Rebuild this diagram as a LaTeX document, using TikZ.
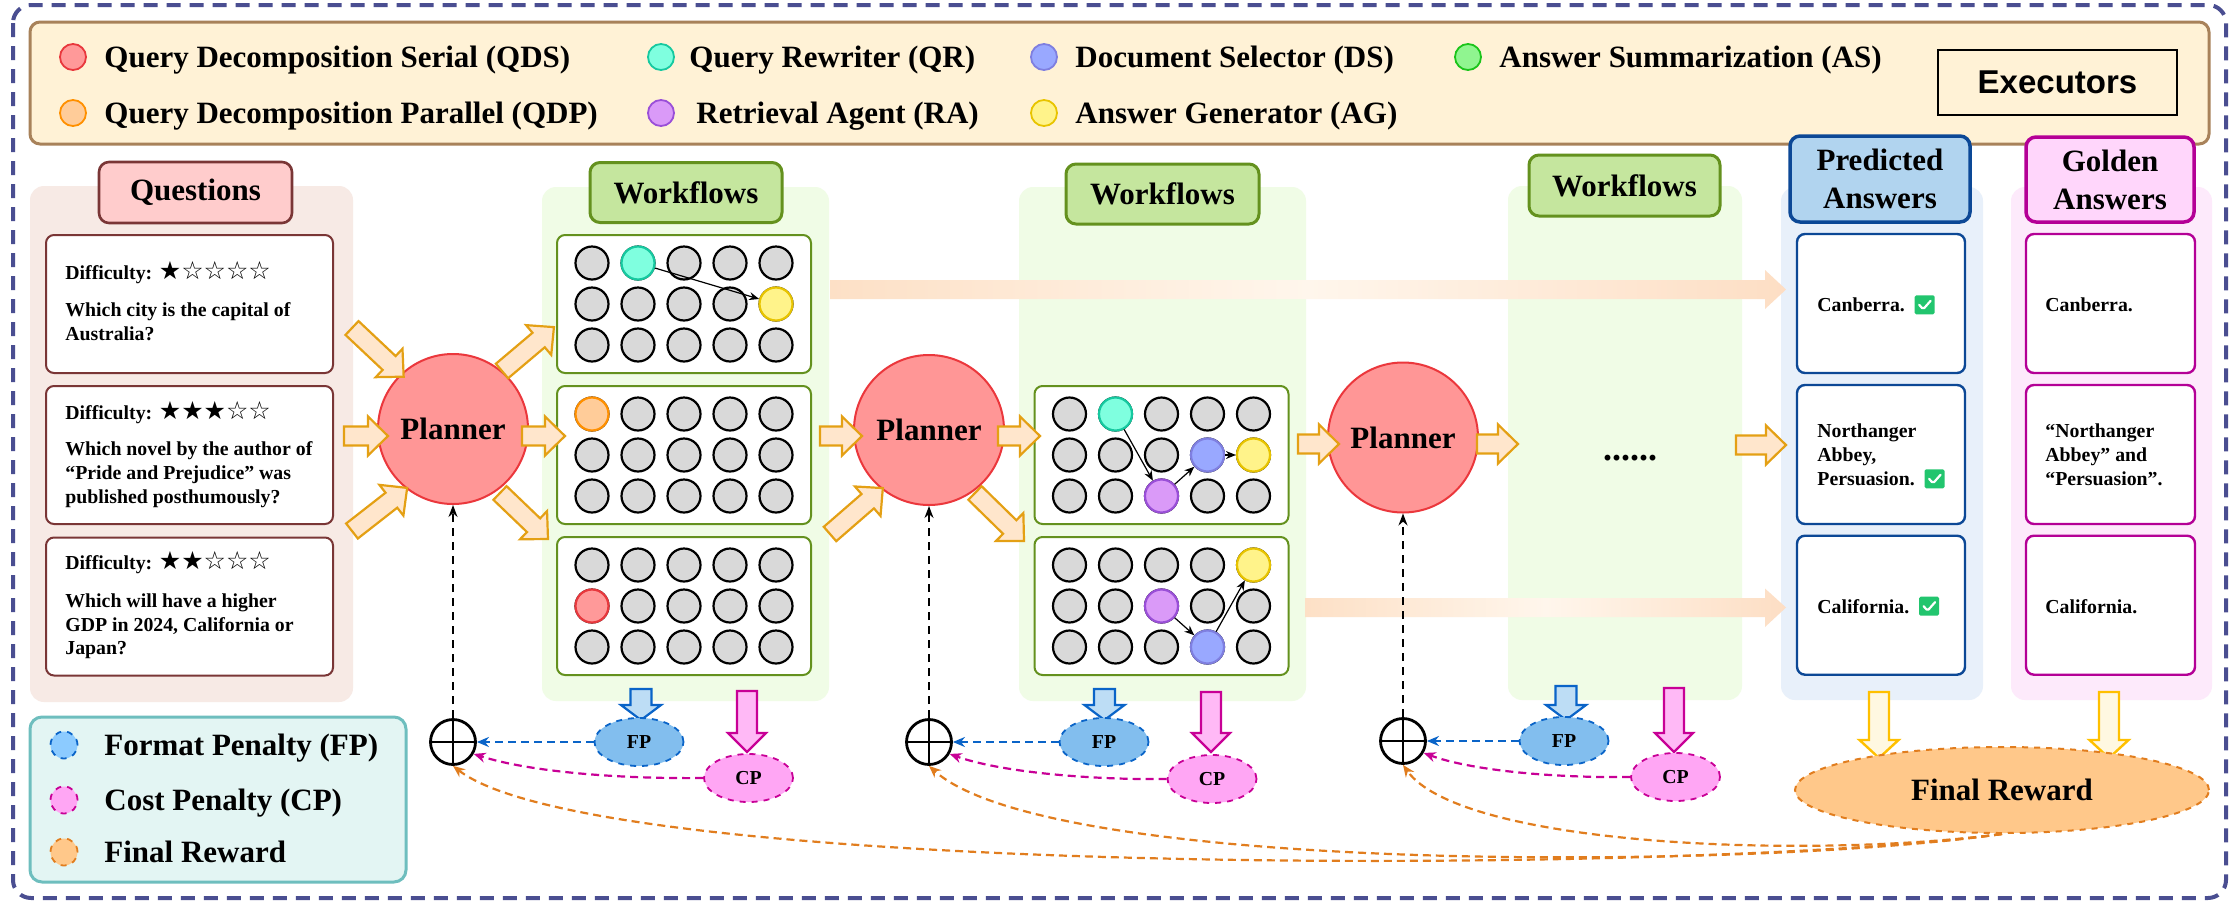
\documentclass[tikz,border=0pt]{standalone}
\usepackage{fontspec}
\setmainfont{Liberation Serif}
\setsansfont{Liberation Sans}
\newfontfamily\symf{DejaVu Sans}
\usetikzlibrary{arrows.meta,shapes.geometric}
\definecolor{outerC}{RGB}{74,78,145}
\definecolor{exF}{RGB}{255,242,214}
\definecolor{exD}{RGB}{168,130,90}
\definecolor{qbg}{RGB}{247,234,229}
\definecolor{qhF}{RGB}{255,204,204}
\definecolor{qD}{RGB}{122,54,54}
\definecolor{wbg}{RGB}{240,252,230}
\definecolor{whF}{RGB}{197,230,158}
\definecolor{wD}{RGB}{100,145,30}
\definecolor{gridF}{RGB}{217,217,217}
\definecolor{plF}{RGB}{255,150,150}
\definecolor{plD}{RGB}{235,55,60}
\definecolor{baF}{RGB}{255,230,204}
\definecolor{baD}{RGB}{228,160,20}
\definecolor{barL}{RGB}{253,224,198}
\definecolor{barR}{RGB}{253,222,196}
\definecolor{barM}{RGB}{255,246,236}
\definecolor{pbg}{RGB}{232,240,250}
\definecolor{phF}{RGB}{177,212,239}
\definecolor{pD}{RGB}{12,72,150}
\definecolor{gbg}{RGB}{253,234,251}
\definecolor{ghF}{RGB}{255,214,251}
\definecolor{gD}{RGB}{180,0,150}
\definecolor{lgF}{RGB}{227,245,243}
\definecolor{lgD}{RGB}{110,190,190}
\definecolor{fpF}{RGB}{130,190,238}
\definecolor{fpLF}{RGB}{140,203,255}
\definecolor{fpD}{RGB}{10,100,200}
\definecolor{fpaF}{RGB}{189,221,245}
\definecolor{cpF}{RGB}{255,166,244}
\definecolor{cpD}{RGB}{200,0,150}
\definecolor{cpaF}{RGB}{255,185,246}
\definecolor{frF}{RGB}{255,200,138}
\definecolor{frD}{RGB}{225,125,30}
\definecolor{yaF}{RGB}{255,248,225}
\definecolor{yaD}{RGB}{255,192,0}
\definecolor{ckG}{RGB}{34,197,110}
\definecolor{qdsF}{RGB}{255,153,153}\definecolor{qdsD}{RGB}{232,56,61}
\definecolor{qdpF}{RGB}{255,204,153}\definecolor{qdpD}{RGB}{255,144,0}
\definecolor{qrF}{RGB}{127,255,223}\definecolor{qrD}{RGB}{22,201,160}
\definecolor{raF}{RGB}{218,154,248}\definecolor{raD}{RGB}{154,79,216}
\definecolor{dsF}{RGB}{153,168,255}\definecolor{dsD}{RGB}{127,127,224}
\definecolor{agF}{RGB}{255,243,138}\definecolor{agD}{RGB}{232,196,0}
\definecolor{asF}{RGB}{144,245,144}\definecolor{asD}{RGB}{27,196,27}
\newcommand{\blockarr}[7]{%
\begin{scope}[shift={#2},rotate=#3]
\draw[#1] (0,-#5) -- ({#4-#7},-#5) -- ({#4-#7},-#6) -- (#4,0) -- ({#4-#7},#6) -- ({#4-#7},#5) -- (0,#5) -- cycle;
\end{scope}}
\newcommand{\stars}[1]{{\symf\mdseries\fontsize{12.5}{12}\selectfont #1}}
\tikzset{
 lbl/.style={inner sep=0pt,font=\bfseries\fontsize{15.5}{19}\selectfont},
 sml/.style={inner sep=0pt,font=\bfseries\fontsize{9.9}{12}\selectfont},
 excirc/.style={circle,minimum size=13pt,inner sep=0pt,line width=0.9pt},
 qdsS/.style={fill=qdsF,draw=qdsD},
 qdpS/.style={fill=qdpF,draw=qdpD},
 qrS/.style={fill=qrF,draw=qrD},
 raS/.style={fill=raF,draw=raD},
 dsS/.style={fill=dsF,draw=dsD},
 agS/.style={fill=agF,draw=agD},
 asS/.style={fill=asF,draw=asD},
 hdr/.style={rounded corners=5pt,inner sep=0pt,align=center,font=\bfseries\fontsize{15.5}{19}\selectfont},
 qbox/.style={draw=qD,fill=white,line width=1pt,rounded corners=4pt,minimum width=143.5pt,minimum height=69pt,inner sep=0pt},
 wbox/.style={draw=wD,fill=white,line width=1pt,rounded corners=4pt,minimum width=127pt,minimum height=69pt,inner sep=0pt},
 gc/.style={circle,minimum size=16.5pt,inner sep=0pt,fill=gridF,draw=black,line width=1.1pt},
 planner/.style={circle,minimum size=75pt,inner sep=0pt,fill=plF,draw=plD,line width=1pt,font=\bfseries\fontsize{15.5}{19}\selectfont},
 barrow/.style={fill=baF,draw=baD,line width=1.1pt},
 fpa/.style={fill=fpaF,draw=fpD,line width=1.1pt},
 cpa/.style={fill=cpaF,draw=cpD,line width=1.1pt},
 yaa/.style={fill=yaF,draw=yaD,line width=1.2pt},
 abox/.style={fill=white,line width=1.2pt,rounded corners=4pt,minimum width=84pt,minimum height=69.5pt,inner sep=0pt},
 chk/.style={rectangle,fill=ckG,minimum width=10pt,minimum height=9.5pt,inner sep=0pt,rounded corners=0.8pt,
   path picture={\draw[white,line width=1.1pt,line cap=round,line join=round] ([shift={(-5.5,0)}]path picture bounding box.center) -- ++(4,4.5) -- ++(7.5,-8.5);}},
 oplus/.style={circle,draw=black,line width=1.4pt,minimum size=22.5pt,inner sep=0pt,
   path picture={\draw[line width=1.4pt] (path picture bounding box.north) -- (path picture bounding box.south) (path picture bounding box.west) -- (path picture bounding box.east);}},
 pen/.style={ellipse,minimum width=44.5pt,minimum height=24pt,inner sep=0pt,dashed,line width=0.9pt,font=\bfseries\fontsize{9.9}{12}\selectfont},
 fpS/.style={pen,fill=fpF,draw=fpD},
 cpS/.style={pen,fill=cpF,draw=cpD},
 flow/.style={-{Stealth[length=5pt,width=4pt]},line width=0.6pt},
 vdash/.style={draw=black,line width=0.8pt,dash pattern=on 4pt off 3pt,-{Stealth[length=6pt,width=4.5pt]}},
 fparr/.style={draw=fpD,line width=1.2pt,dash pattern=on 4pt off 2.5pt,-{Stealth[length=6pt,width=5pt]}},
 cparr/.style={draw=cpD,line width=1.1pt,dash pattern=on 4pt off 2.5pt,-{Stealth[length=6pt,width=5pt]}},
 frarr/.style={draw=frD,line width=1.1pt,dash pattern=on 4pt off 2.5pt,-{Stealth[length=6pt,width=5pt]}},
 lgc/.style={circle,minimum size=13.5pt,inner sep=0pt,dashed,line width=0.9pt},
}
\begin{document}
\begin{tikzpicture}[x=0.5pt,y=-0.5pt]
\useasboundingbox (0,0) rectangle (2240,906);
\fill[white] (0,0) rectangle (2240,906);
% outer frame
\draw[outerC,line width=2pt,dash pattern=on 7pt off 4.5pt,rounded corners=9pt] (13,5) rectangle (2226,898);
% executors legend
\draw[fill=exF,draw=exD,line width=1.5pt,rounded corners=5pt] (30,22) rectangle (2209,144);
\node[excirc,qdsS] (lqds) at (73,57) {};
\node[lbl,anchor=base west] (tqds) at (104,67) {Query Decomposition Serial (QDS)};
\node[excirc,qdpS] (lqdp) at (73,113) {};
\node[lbl,anchor=base west] (tqdp) at (104,123) {Query Decomposition Parallel (QDP)};
\node[excirc,qrS] (lqr) at (661,57) {};
\node[lbl,anchor=base west] (tqr) at (689,67) {Query Rewriter (QR)};
\node[excirc,raS] (lra) at (661,113) {};
\node[lbl,anchor=base west] (tra) at (696,123) {Retrieval Agent (RA)};
\node[excirc,dsS] (lds) at (1044,57) {};
\node[lbl,anchor=base west] (tds) at (1075,67) {Document Selector (DS)};
\node[excirc,agS] (lag) at (1044,113) {};
\node[lbl,anchor=base west] (tag) at (1075,123) {Answer Generator (AG)};
\node[excirc,asS] (las) at (1468,57) {};
\node[lbl,anchor=base west] (tas) at (1499,67) {Answer Summarization (AS)};
\node[draw=black,line width=0.7pt,minimum width=119.5pt,minimum height=32.5pt,inner sep=0pt,font=\sffamily\bfseries\fontsize{16.5}{19}\selectfont] (exlbl) at (2057.5,82.5) {Executors};
% panel backgrounds
\fill[qbg,rounded corners=7pt] (30,186) rectangle (353,702);
\fill[wbg,rounded corners=7pt] (542,187) rectangle (829,701);
\fill[wbg,rounded corners=7pt] (1019,187) rectangle (1306,701);
\fill[wbg,rounded corners=7pt] (1508,186) rectangle (1742,700);
\fill[pbg,rounded corners=7pt] (1781,187) rectangle (1983,700);
\fill[gbg,rounded corners=7pt] (2011,187) rectangle (2212,700);
% gradient bars
\shade[left color=barL,right color=barR,middle color=barM] (830,280) -- (1765,280) -- (1765,270) -- (1786,289.5) -- (1765,309) -- (1765,299) -- (830,299) -- cycle;
\shade[left color=barL,right color=barR,middle color=barM] (1305,598) -- (1765,598) -- (1765,588.5) -- (1786,607.5) -- (1765,627) -- (1765,617) -- (1305,617) -- cycle;
% headers
\node[hdr,fill=qhF,draw=qD,line width=1.3pt,minimum width=96.5pt,minimum height=30.5pt] (qhead) at (195.5,192.5) {Questions};
\node[hdr,fill=whF,draw=wD,line width=1.5pt,minimum width=96pt,minimum height=30pt] (w1head) at (686,192.5) {Workflows};
\node[hdr,fill=whF,draw=wD,line width=1.5pt,minimum width=96.5pt,minimum height=30pt] (w2head) at (1162.5,194) {Workflows};
\node[hdr,fill=whF,draw=wD,line width=1.5pt,minimum width=95.5pt,minimum height=30.5pt] (w3head) at (1624.5,185.5) {Workflows};
\node[hdr,fill=phF,draw=pD,line width=1.75pt,minimum width=90pt,minimum height=43pt] (phead) at (1880,179) {Predicted\\Answers};
\node[hdr,fill=ghF,draw=gD,line width=1.75pt,minimum width=84pt,minimum height=42.5pt] (ghead) at (2110,179.5) {Golden\\Answers};
% question boxes
\node[qbox] (q1) at (189.5,304) {};
\node[qbox] (q2) at (189.5,455) {};
\node[qbox] (q3) at (189.5,606.5) {};
\node[sml,anchor=base west] (q1d) at (65,279) {Difficulty: \stars{★☆☆☆☆}};
\node[sml,anchor=base west] (q1a) at (65,316) {Which city is the capital of};
\node[sml,anchor=base west] (q1b) at (65,340) {Australia?};
\node[sml,anchor=base west] (q2d) at (65,419) {Difficulty: \stars{★★★☆☆}};
\node[sml,anchor=base west] (q2a) at (65,455) {Which novel by the author of};
\node[sml,anchor=base west] (q2b) at (65,479) {“Pride and Prejudice” was};
\node[sml,anchor=base west] (q2c) at (65,503) {published posthumously?};
\node[sml,anchor=base west] (q3d) at (65,569) {Difficulty: \stars{★★☆☆☆}};
\node[sml,anchor=base west] (q3a) at (65,607) {Which will have a higher};
\node[sml,anchor=base west] (q3b) at (65,631) {GDP in 2024, California or};
\node[sml,anchor=base west] (q3c) at (65,654) {Japan?};
% workflow boxes
\node[wbox] (wA) at (684,304) {};
\node[wbox] (wB) at (684,455) {};
\node[wbox] (wC) at (684,606) {};
\node[wbox] (wD) at (1161.5,455) {};
\node[wbox] (wE) at (1161.5,606) {};
\foreach \bn/\bx/\by in {A/684/304,B/684/455,C/684/606,D/1161.5/455,E/1161.5/606}{
 \foreach \i in {1,2,3}{
  \foreach \j in {1,...,5}{
   \node[gc] (g\bn\i\j) at ({\bx+(\j-3)*46},{\by+(\i-2)*41}) {};
 }}}
\node[gc,qrS] (aQR) at (gA12) {};
\node[gc,agS] (aAG) at (gA25) {};
\node[gc,qdpS] (bQDP) at (gB11) {};
\node[gc,qdsS] (cQDS) at (gC21) {};
\node[gc,qrS] (dQR) at (gD12) {};
\node[gc,dsS] (dDS) at (gD24) {};
\node[gc,agS] (dAG) at (gD25) {};
\node[gc,raS] (dRA) at (gD33) {};
\node[gc,agS] (eAG) at (gE15) {};
\node[gc,raS] (eRA) at (gE23) {};
\node[gc,dsS] (eDS) at (gE34) {};
\draw[flow] (aQR) -- (aAG);
\draw[flow] (dQR) -- (dRA);
\draw[flow] (dRA) -- (dDS);
\draw[flow] (dDS) -- (dAG);
\draw[flow] (eRA) -- (eDS);
\draw[flow] (eDS) -- (eAG);
% planners
\node[planner] (pl1) at (453,429) {Planner};
\node[planner] (pl2) at (929,430) {Planner};
\node[planner] (pl3) at (1403,437.5) {Planner};
% block arrows
\blockarr{barrow}{(352,328)}{-43.3}{71}{9.5}{19.5}{20}
\blockarr{barrow}{(344,436)}{0}{44}{9.5}{19.5}{20}
\blockarr{barrow}{(352,531)}{38}{70}{9.5}{19.5}{20}
\blockarr{barrow}{(502,371)}{40.2}{68}{9.5}{19.5}{20}
\blockarr{barrow}{(522,436)}{0}{43}{9.5}{19.5}{20}
\blockarr{barrow}{(500,493)}{-43.8}{66.5}{9.5}{19.5}{20}
\blockarr{barrow}{(820,436)}{0}{42}{9.5}{19.5}{20}
\blockarr{barrow}{(830,534)}{41}{70}{9.5}{19.5}{20}
\blockarr{barrow}{(998,436)}{0}{42}{9.5}{19.5}{20}
\blockarr{barrow}{(975,493)}{-44.4}{68.6}{9.5}{19.5}{20}
\blockarr{barrow}{(1298,444)}{0}{41}{9.5}{19.5}{20}
\blockarr{barrow}{(1477,444)}{0}{41}{9.5}{19.5}{20}
\blockarr{barrow}{(1736,445)}{0}{50}{9.5}{19.5}{20}
\node[inner sep=0pt,font=\bfseries\fontsize{18}{20}\selectfont,anchor=base] (dots) at (1630,460) {......};
% answer boxes
\node[abox,draw=pD] (pa1) at (1881,303.5) {};
\node[abox,draw=pD] (pa2) at (1881,454.5) {};
\node[abox,draw=pD] (pa3) at (1881,605.2) {};
\node[abox,draw=gD,minimum width=84.5pt] (ga1) at (2110.5,303.5) {};
\node[abox,draw=gD,minimum width=84.5pt] (ga2) at (2110.5,454.5) {};
\node[abox,draw=gD,minimum width=84.5pt] (ga3) at (2110.5,605.2) {};
\node[sml,anchor=base west] (pt1) at (1817,311.5) {Canberra.};
\node[chk,anchor=west] (ck1) at ([xshift=4.5pt]pt1.east) {};
\node[sml,anchor=base west] (pt2a) at (1817,437.5) {Northanger};
\node[sml,anchor=base west] (pt2b) at (1817,461) {Abbey,};
\node[sml,anchor=base west] (pt2c) at (1817,485.5) {Persuasion.};
\node[chk,anchor=west] (ck2) at ([xshift=4.5pt]pt2c.east) {};
\node[sml,anchor=base west] (pt3) at (1817,613) {California.};
\node[chk,anchor=west] (ck3) at ([xshift=4.5pt]pt3.east) {};
\node[sml,anchor=base west] (gt1) at (2045,311.5) {Canberra.};
\node[sml,anchor=base west] (gt2a) at (2045,437.5) {“Northanger};
\node[sml,anchor=base west] (gt2b) at (2045,461) {Abbey” and};
\node[sml,anchor=base west] (gt2c) at (2045,485.5) {“Persuasion”.};
\node[sml,anchor=base west] (gt3) at (2045,613) {California.};
% penalty arrows
\blockarr{fpa}{(641,689)}{-90}{31}{10.5}{20}{15}
\blockarr{cpa}{(747,691)}{-90}{61}{10}{19}{19}
\blockarr{fpa}{(1104.5,689)}{-90}{31}{10.5}{20}{15}
\blockarr{cpa}{(1211,692)}{-90}{60}{10}{19}{19}
\blockarr{fpa}{(1566,686)}{-90}{34}{10.5}{20}{15}
\blockarr{cpa}{(1674,688)}{-90}{64}{10}{19}{19}
\blockarr{yaa}{(1879,692)}{-90}{66}{10}{19.5}{18}
\blockarr{yaa}{(2109,692)}{-90}{66}{10}{19.5}{18}
% penalty nodes
\node[oplus] (op1) at (453,742) {};
\node[oplus] (op2) at (929,742) {};
\node[oplus] (op3) at (1403,741) {};
\node[fpS] (fp1) at (639,742) {FP};
\node[cpS] (cp1) at (748.5,778) {CP};
\node[fpS] (fp2) at (1104,742) {FP};
\node[cpS] (cp2) at (1212,779) {CP};
\node[fpS] (fp3) at (1564,741) {FP};
\node[cpS] (cp3) at (1675.5,777) {CP};
\node[ellipse,minimum width=207pt,minimum height=43pt,inner sep=0pt,fill=frF,draw=frD,dashed,line width=1pt,font=\bfseries\fontsize{15.5}{19}\selectfont] (fr) at (2002,790) {Final Reward};
% connectors
\draw[vdash] (op1) -- (pl1);
\draw[vdash] (op2) -- (pl2);
\draw[vdash] (op3) -- (pl3);
\draw[fparr] (fp1) -- (op1);
\draw[fparr] (fp2) -- (op2);
\draw[fparr] (fp3) -- (op3);
\draw[cparr] (cp1.west) .. controls (620,779) and (530,772) .. (op1.-30);
\draw[cparr] (cp2.west) .. controls (1090,780) and (1000,772) .. (op2.-30);
\draw[cparr] (cp3.west) .. controls (1550,778) and (1470,770) .. (op3.-30);
\draw[frarr] (fr.south) .. controls (1700,875) and (600,880) .. (op1.south);
\draw[frarr] (fr.south) .. controls (1750,870) and (1050,875) .. (op2.south);
\draw[frarr] (fr.south) .. controls (1800,860) and (1460,845) .. (op3.south);
% penalty legend
\draw[fill=lgF,draw=lgD,line width=1.5pt,rounded corners=6pt] (30,717) rectangle (406,882);
\node[lgc,fill=fpLF,draw=fpD] (lfp) at (64,745) {};
\node[lbl,anchor=base west] (tfp) at (104,755) {Format Penalty (FP)};
\node[lgc,fill=cpF,draw=cpD] (lcp) at (64,800) {};
\node[lbl,anchor=base west] (tcp) at (104,810) {Cost Penalty (CP)};
\node[lgc,fill=frF,draw=frD] (lfr) at (64,852) {};
\node[lbl,anchor=base west] (tfr) at (104,862) {Final Reward};
\end{tikzpicture}
\end{document}
